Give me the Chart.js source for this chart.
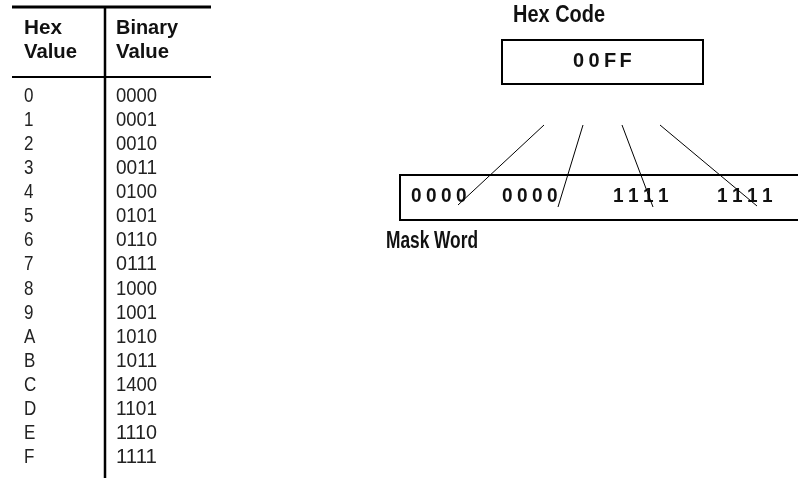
<!DOCTYPE html>
<html>
<head>
<meta charset="utf-8">
<script src="https://cdn.jsdelivr.net/npm/chart.js@4.4.1/dist/chart.umd.min.js"></script>
<style>
    html, body { margin: 0; padding: 0; background: #fff; }
    canvas { display: block; }
</style>
</head>
<body>
<canvas id="maskChart" width="798" height="478"></canvas>
<script>
// Table data
const hexDigits = ['0', '1', '2', '3', '4', '5', '6', '7', '8', '9', 'A', 'B', 'C', 'D', 'E', 'F'];
const binaryValues = ['0000', '0001', '0010', '0011', '0100', '0101', '0110', '0111',
                      '1000', '1001', '1010', '1011', '1400', '1101', '1110', '1111'];
const tableHeaders = [['Hex', 'Value'], ['Binary', 'Value']];

// Mask diagram data
const hexCode = '00FF';
const maskGroups = ['0000', '0000', '1111', '1111'];
const hexCodeTitle = 'Hex Code';
const maskTitle = 'Mask Word';

const FONT = '"Liberation Sans", Arial, sans-serif';

// connector lines from the hex box down into each nibble group
const connectors = [
    [{ x: 544, y: 125 }, { x: 458, y: 205 }],
    [{ x: 583, y: 125 }, { x: 558, y: 207 }],
    [{ x: 622, y: 125 }, { x: 653, y: 207 }],
    [{ x: 660, y: 125 }, { x: 757, y: 206 }]
];

const diagramPlugin = {
    id: 'diagram',
    beforeDatasetsDraw: function(chart) {
        const ctx = chart.ctx;
        const sx = chart.scales.x;
        const sy = chart.scales.y;
        const px = v => sx.getPixelForValue(v);
        const py = v => sy.getPixelForValue(v);

        function line(x1, y1, x2, y2, w) {
            ctx.beginPath();
            ctx.lineWidth = w;
            ctx.moveTo(px(x1), py(y1));
            ctx.lineTo(px(x2), py(y2));
            ctx.stroke();
        }

        // squeeze text horizontally so it spans the given width (condensed face look)
        function fitText(text, x, y, width) {
            const w = ctx.measureText(text).width;
            ctx.save();
            ctx.translate(px(x), py(y));
            ctx.scale(width / w, 1);
            ctx.fillText(text, 0, 0);
            ctx.restore();
        }

        // spaced out characters, one every `step` px
        function spacedText(text, x, y, step) {
            for (let i = 0; i < text.length; i++) {
                fitText(text[i], x + i * step, y, ctx.measureText(text[i]).width * 0.95);
            }
        }

        ctx.save();
        ctx.strokeStyle = '#000';
        ctx.fillStyle = '#111';
        ctx.textBaseline = 'alphabetic';
        ctx.textAlign = 'left';

        // table rules
        line(12, 7, 211, 7, 3);
        line(12, 77, 211, 77, 2);
        line(105, 7, 105, 478, 2.5);

        // table headers
        ctx.font = 'bold 20px ' + FONT;
        const colX = [24, 116];
        const hdrW = [[38, 53], [62, 53]];
        tableHeaders.forEach((hdr, c) => {
            fitText(hdr[0], colX[c], 34, hdrW[c][0]);
            fitText(hdr[1], colX[c], 58, hdrW[c][1]);
        });

        // table rows
        ctx.font = '20px ' + FONT;
        ctx.fillStyle = '#222';
        hexDigits.forEach((d, i) => {
            const base = 102 + 24.07 * i;
            fitText(d, colX[0], base, ctx.measureText(d).width * 0.85);
            fitText(binaryValues[i], colX[1], base, 41);
        });

        // hex code title + box
        ctx.fillStyle = '#111';
        ctx.font = 'bold 23px ' + FONT;
        fitText(hexCodeTitle, 513, 22, 92);
        ctx.lineWidth = 2;
        ctx.strokeRect(px(502), py(40), px(703) - px(502), py(84) - py(40));
        ctx.font = 'bold 21px ' + FONT;
        spacedText(hexCode, 573, 67, 15.5);

        // mask word box (open on the right)
        line(400, 175, 798, 175, 2);
        line(400, 220, 798, 220, 2);
        line(400, 174, 400, 221, 2);
        ctx.font = 'bold 20px ' + FONT;
        const groupX = [411, 502, 613, 717];
        maskGroups.forEach((g, i) => {
            spacedText(g, groupX[i], 202, 15);
        });
        ctx.font = 'bold 23px ' + FONT;
        fitText(maskTitle, 386, 248, 92);

        ctx.restore();
    }
};

const ctx = document.getElementById('maskChart').getContext('2d');
const maskChart = new Chart(ctx, {
    type: 'scatter',
    data: {
        datasets: connectors.map(pts => ({
            data: pts,
            showLine: true,
            borderColor: '#000',
            borderWidth: 1,
            pointRadius: 0,
            fill: false
        }))
    },
    options: {
        responsive: false,
        animation: false,
        devicePixelRatio: 1,
        layout: { padding: 0 },
        scales: {
            x: { type: 'linear', min: 0, max: 798, display: false },
            y: { type: 'linear', min: 0, max: 478, reverse: true, display: false }
        },
        plugins: {
            legend: { display: false },
            tooltip: { enabled: false }
        }
    },
    plugins: [diagramPlugin]
});
</script>
</body>
</html>
